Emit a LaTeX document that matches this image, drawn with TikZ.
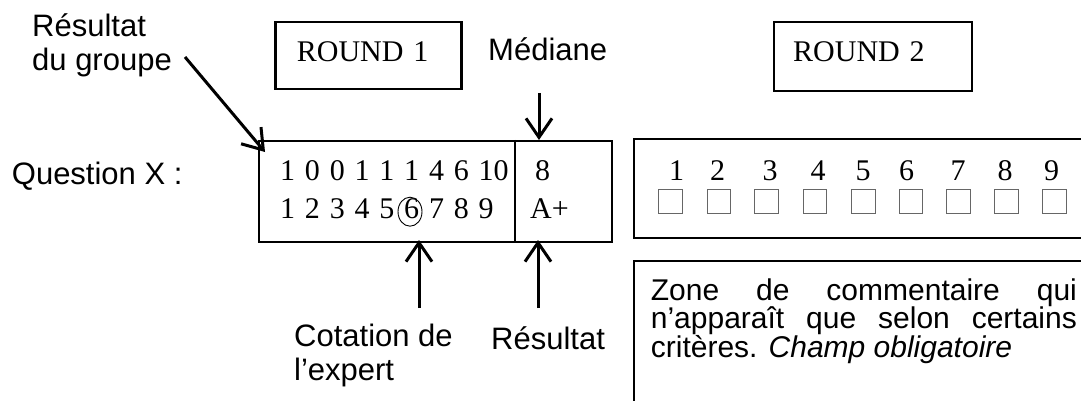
\documentclass[tikz,border=0pt]{standalone}
\usepackage{fontspec}
\setmainfont{Liberation Sans}
\newfontfamily\serfont{Liberation Serif}
\usetikzlibrary{arrows.meta,shapes.geometric}
\newcommand\lblfont{\fontsize{31}{34}\selectfont}
\newcommand\cmtfont{\fontsize{30}{28.5}\selectfont\lineskiplimit=-50pt\relax}
\newcommand\numfont{\serfont\fontsize{30}{38}\selectfont\spaceskip=9.8pt\relax}
\tikzset{
  lbl/.style={font=\lblfont, inner sep=0pt, anchor=base west},
  sernum/.style={font=\numfont, inner sep=0pt, anchor=base west},
  frame/.style={draw, line width=2.2pt},
  arr/.style={line width=3pt, -{Straight Barb[length=19pt,width=26pt]}},
  chk/.style={draw=black!60, line width=1pt, minimum width=23.5pt, minimum height=24pt, inner sep=0pt},
  ringmark/.style={draw, line width=0.9pt, ellipse, minimum width=24pt, minimum height=29pt, inner sep=0pt},
}
\begin{document}
\begin{tikzpicture}[x=1pt,y=-1pt]
\useasboundingbox (0,0) rectangle (1081,401);

% labels (multi-line nodes: base = last line)
\node[lbl, align=left] (groupe) at (32,70.7) {Résultat\\du groupe};
\node[lbl] (question) at (11.7,184.3) {Question X :};
\node[lbl] (mediane) at (488,61) {Médiane};
\node[lbl, align=left] (cotation) at (294,380) {Cotation de\\l’expert};
\node[lbl] (resultat) at (491,349) {Résultat};

% round boxes
\node[frame, anchor=north west, minimum width=186pt, minimum height=67pt, inner sep=0pt] (r1box) at (274.3,21) {};
\node[sernum] (r1) at (296.7,61.7) {ROUND 1};
\node[frame, anchor=north west, minimum width=198pt, minimum height=69pt, inner sep=0pt] (r2box) at (772.7,20.7) {};
\node[sernum] (r2) at (793,61.7) {ROUND 2};

% main box
\node[frame, anchor=north west, minimum width=353pt, minimum height=100.7pt, inner sep=0pt] (mainbox) at (258,140) {};
\coordinate (divtop) at (515,140);
\coordinate (divbot) at (515,240.7);
\draw[line width=2.2pt] (divtop) -- (divbot);
\node[sernum] (row1) at (280,180) {1 0 0 1 1 1 4 6 10};
\node[sernum] (row2) at (280,218) {1 2 3 4 5 6 7 8 9};
\node[sernum] (med) at (535,180) {8};
\node[sernum] (res) at (530,218) {A+};
\node[ringmark] (ring) at (410,211.7) {};

% round 2 box
\draw[line width=2.2pt] (1095,139.3) -- (634,139.3) -- (634,237.7) -- (1095,237.7);
\foreach \x/\d in {676.7/1,717.7/2,770/3,818/4,863/5,906.7/6,958/7,1005/8,1051.7/9}{
  \node[font=\numfont, inner sep=0pt, anchor=base] (d\d) at (\x,180) {\d};
}
\foreach \x/\d in {670.7/1,719/2,766.7/3,815/4,863.3/5,911/6,958.3/7,1006.7/8,1054.3/9}{
  \node[chk] (c\d) at (\x,201) {};
}

% comment box
\draw[line width=2.2pt] (1095,260.7) -- (634,260.7) -- (634,410);
\node[inner sep=0pt, anchor=base west] (comment) at (650.7,300)
  {\parbox[t]{426pt}{\cmtfont
   \makebox[426pt][s]{Zone de commentaire qui}\par
   \makebox[426pt][s]{n’apparaît que selon certains}\par
   critères. \textit{Champ obligatoire}}};

% arrows
\coordinate (gstart) at (185,57);
\coordinate (gtip) at (265,152);
\draw[arr] (gstart) -- (gtip);
\coordinate (mstart) at (539,93);
\coordinate (mtip) at (539,140);
\draw[arr] (mstart) -- (mtip);
\coordinate (cstart) at (419,308);
\coordinate (ctip) at (419,240);
\draw[arr] (cstart) -- (ctip);
\coordinate (rstart) at (538,308);
\coordinate (rtip) at (538,240);
\draw[arr] (rstart) -- (rtip);
\end{tikzpicture}
\end{document}
